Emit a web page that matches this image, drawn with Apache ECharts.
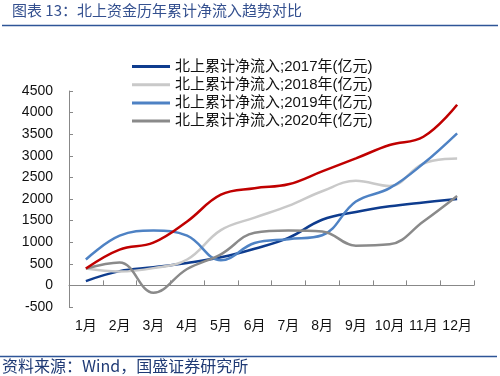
<!DOCTYPE html>
<html>
<head>
<meta charset="utf-8">
<script src="https://cdn.jsdelivr.net/npm/echarts@6/dist/echarts.min.js"></script>
<style>
  html, body { margin: 0; padding: 0; background: #fff; }
  #chart { width: 500px; height: 376px; }
</style>
</head>
<body>
<div id="chart"></div>
<script>
// 月份
const months = ['1月', '2月', '3月', '4月', '5月', '6月', '7月', '8月', '9月', '10月', '11月', '12月'];
// 各年累计净流入（亿元）
const flow2017 = [100, 330, 420, 520, 650, 850, 1100, 1520, 1700, 1830, 1920, 2000];
const flow2018 = [390, 320, 400, 600, 1280, 1570, 1840, 2180, 2420, 2300, 2820, 2940];
const flow2019 = [600, 1150, 1270, 1150, 580, 980, 1070, 1160, 1940, 2250, 2820, 3520];
const flow2020 = [390, 530, -170, 380, 720, 1220, 1270, 1250, 920, 950, 1480, 2070];
const flowRed = [390, 830, 990, 1480, 2100, 2250, 2340, 2640, 2940, 3250, 3440, 4180];
const legendNames = [
  '北上累计净流入;2017年(亿元)',
  '北上累计净流入;2018年(亿元)',
  '北上累计净流入;2019年(亿元)',
  '北上累计净流入;2020年(亿元)'
];

const font = '"Liberation Sans", "Noto Sans CJK SC", sans-serif';
const cjk = '"Noto Sans CJK SC", sans-serif';

function line(name, data, color) {
  return {
    name: name,
    type: 'line',
    data: data,
    smooth: 0.4,
    symbol: 'none',
    lineStyle: { color: color, width: 2.5 },
    itemStyle: { color: color }
  };
}

const chart = echarts.init(document.getElementById('chart'));
chart.setOption({
  animation: false,
  grid: { left: 69, right: 26, top: 91, bottom: 69 },
  legend: {
    data: legendNames,
    orient: 'vertical',
    left: 127,
    top: 54,
    icon: 'rect',
    itemWidth: 38,
    itemHeight: 3,
    itemGap: 3.2,
    textStyle: { fontFamily: font, fontSize: 15, color: '#111', padding: [0, 0, 0, 0] }
  },
  xAxis: [
    {
      type: 'category',
      data: months,
      position: 'bottom',
      axisLine: { onZero: false, show: false },
      axisTick: { show: false },
      axisLabel: { fontFamily: font, fontSize: 14, color: '#111', margin: 12, interval: 0 }
    },
    {
      type: 'category',
      data: months,
      position: 'top',
      axisLine: { onZero: true, lineStyle: { color: '#888', width: 1 } },
      axisTick: { show: true, length: 5, lineStyle: { color: '#888' } },
      axisLabel: { show: false }
    }
  ],
  yAxis: {
    type: 'value',
    min: -500,
    max: 4500,
    interval: 500,
    splitLine: { show: false },
    axisLine: { show: true, lineStyle: { color: '#888', width: 1 } },
    axisTick: { show: true, inside: true, length: 4, lineStyle: { color: '#888' } },
    axisLabel: { fontFamily: font, fontSize: 14, color: '#111', margin: 16, formatter: v => String(v) }
  },
  series: [
    line(legendNames[0], flow2017, '#0E3C8E'),
    line(legendNames[1], flow2018, '#C9C9C9'),
    line(legendNames[2], flow2019, '#4E82C4'),
    line(legendNames[3], flow2020, '#8A8A8A'),
    line('北上累计净流入', flowRed, '#C00000')
  ],
  graphic: [
    {
      type: 'text', left: 12, top: 3,
      style: { text: '图表 13：北上资金历年累计净流入趋势对比', font: '15px ' + cjk, fill: '#34508F' }
    },
    {
      type: 'line', shape: { x1: 2, y1: 25.5, x2: 498, y2: 25.5 },
      style: { stroke: '#2E5597', lineWidth: 1.5 }
    },
    {
      type: 'line', shape: { x1: 0, y1: 356.5, x2: 497, y2: 356.5 },
      style: { stroke: '#2E5597', lineWidth: 1.5 }
    },
    {
      type: 'text', left: 2, top: 358,
      style: { text: '资料来源：Wind，国盛证券研究所', font: '16px ' + cjk, fill: '#1F3A75' }
    }
  ]
});
</script>
</body>
</html>
